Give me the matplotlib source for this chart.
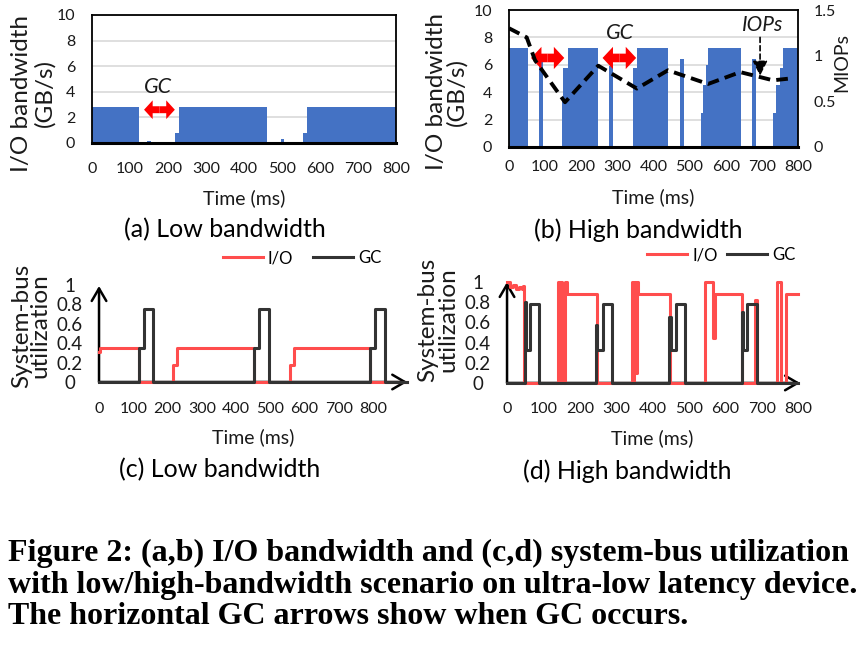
import matplotlib
matplotlib.use('Agg')
import matplotlib.pyplot as plt

W, H = 865, 648
plt.rcParams['font.family'] = ['Lato', 'DejaVu Sans']

# ---------------- data ----------------
# (a) low bandwidth: I/O bandwidth (GB/s), step-wise
a_time = [0, 124, 146, 156, 163, 170, 178, 186, 194, 202, 210, 218, 229, 460, 497, 505, 512, 556, 566, 800]
a_bw   = [2.8, 0, 0.18, 0, 0.1, 0, 0.1, 0, 0.1, 0, 0.1, 0.8, 2.8, 0, 0.3, 0.05, 0, 0.8, 2.8, 2.8]

# (b) high bandwidth: I/O bandwidth (GB/s), step-wise
b_time = [0, 52, 84, 93, 146, 149, 163, 246, 277, 288, 343, 355, 440, 473, 484,
          532, 538, 545, 552, 641, 673, 684, 731, 740, 751, 759, 800]
b_bw   = [7.2, 0, 6.3, 0, 3.5, 5.8, 7.2, 0, 5.9, 0, 5.8, 7.2, 0, 6.4, 0,
          2.5, 4.5, 6.0, 7.2, 0, 6.4, 0, 2.5, 4.5, 5.8, 7.2, 7.2]
# (b) MIOPs (right axis)
miops_time = [0, 49, 72, 155, 247, 354, 440, 551, 640, 731, 778]
miops      = [1.30, 1.20, 0.95, 0.49, 0.89, 0.64, 0.84, 0.69, 0.82, 0.73, 0.75]

# (c) low bandwidth: system-bus utilization
c_io_time = [0, 4, 117, 217, 229, 453, 558, 569, 791, 900]
c_io      = [0.31, 0.35, 0, 0.18, 0.35, 0, 0.18, 0.35, 0, 0]
c_gc_time = [0, 117, 131, 158, 453, 468, 497, 791, 805, 835, 900]
c_gc      = [0, 0.35, 0.75, 0, 0.35, 0.75, 0, 0.35, 0.75, 0, 0]

# (d) high bandwidth: system-bus utilization
d_io_time = [0, 8, 16, 24, 32, 40, 44, 47,
             141, 145, 147, 150, 153, 157, 160, 164, 246,
             344, 347, 350, 353, 356, 359, 448,
             544, 567, 571, 645, 681, 686, 743, 752, 766, 800]
d_io      = [1.0, 0.95, 0.97, 0.93, 0.95, 0.93, 0.96, 0,
             1.0, 0, 1.0, 0.05, 0.95, 0, 1.0, 0.88, 0,
             1.0, 0, 1.0, 0.1, 1.0, 0.88, 0,
             1.0, 0.45, 0.88, 0, 0.82, 0, 1.0, 0, 0.88, 0.88]
d_gc_time = [0, 49, 52, 63, 88, 244, 248, 263, 287, 446, 450, 464, 488, 645, 649, 660, 686, 800]
d_gc      = [0, 0.8, 0.33, 0.78, 0, 0.57, 0.33, 0.78, 0, 0.65, 0.33, 0.78, 0, 0.7, 0.33, 0.78, 0, 0]

time_ticks = [0, 100, 200, 300, 400, 500, 600, 700, 800]
bw_ticks = [0, 2, 4, 6, 8, 10]
miops_ticks = [0, 0.5, 1, 1.5]
miops_labels = ['0', '0.5', '1', '1.5']
util_ticks = [0, 0.2, 0.4, 0.6, 0.8, 1]
util_labels = ['0', '0.2', '0.4', '0.6', '0.8', '1']

BLUE = '#4472C4'
RED = '#FF4D4D'
DARK = '#333333'
TXT = '#1a1a1a'
TICK_FS = 11.5

fig = plt.figure(figsize=(W / 100, H / 100), dpi=100)


def ax_px(left, top, right, bottom):
    return fig.add_axes([left / W, 1 - bottom / H, (right - left) / W, (bottom - top) / H])


def ftext(x, y, s, **kw):
    return fig.text(x / W, 1 - y / H, s, **kw)


def bw_panel(ax, t, v, xpad):
    ax.fill_between(t, v, step='post', color=BLUE, lw=0, zorder=2)
    ax.set_xlim(0, 800)
    ax.set_ylim(0, 10)
    ax.set_xticks(time_ticks)
    ax.set_yticks(bw_ticks)
    ax.yaxis.grid(True, color='#D9D9D9', lw=1.2)
    ax.set_axisbelow(True)
    for s in ['top', 'left', 'right']:
        ax.spines[s].set_color('black')
        ax.spines[s].set_linewidth(1.3)
    ax.spines['bottom'].set_linewidth(2.2)
    ax.spines['bottom'].set_zorder(5)
    ax.tick_params(axis='x', length=0, pad=xpad, labelsize=TICK_FS, labelcolor=TXT)
    ax.tick_params(axis='y', length=0, pad=12, labelsize=TICK_FS, labelcolor=TXT)


def red_arrow(ax, x0, x1, y, hw, hl, tw):
    xm = 0.5 * (x0 + x1)
    style = f'simple,head_width={hw},head_length={hl},tail_width={tw}'
    for xe in (x0, x1):
        ax.annotate('', xy=(xe, y), xytext=(xm, y),
                    arrowprops=dict(arrowstyle=style, lw=0, color='#FF0000',
                                    shrinkA=0, shrinkB=0, mutation_scale=10), zorder=6)


# ---------------- (a) ----------------
ax_a = ax_px(92, 15, 396, 143)
bw_panel(ax_a, a_time, a_bw, 13.5)
red_arrow(ax_a, 137, 218, 2.6, 1.35, 0.62, 0.5)
ax_a.text(174, 4.4, 'GC', style='italic', fontsize=15.5, ha='center', va='center', color=TXT)

# ---------------- (b) ----------------
ax_b = ax_px(509, 10, 798, 147)
bw_panel(ax_b, b_time, b_bw, 9.5)
ax_b2 = ax_b.twinx()
ax_b2.plot(miops_time, miops, color='black', lw=2.8, linestyle=(0, (3, 1.6)), zorder=4)
ax_b2.set_ylim(0, 1.5)
ax_b2.set_yticks(miops_ticks)
ax_b2.set_yticklabels(miops_labels)
ax_b2.tick_params(axis='y', length=0, pad=11, labelsize=TICK_FS, labelcolor=TXT)
for s in ax_b2.spines.values():
    s.set_visible(False)
red_arrow(ax_b, 61, 153, 6.5, 1.6, 0.75, 0.62)
red_arrow(ax_b, 259, 352, 6.5, 1.6, 0.75, 0.62)
ax_b.text(307, 8.3, 'GC', style='italic', fontsize=15.5, ha='center', va='center', color=TXT)
ax_b.text(703, 8.9, 'IOPs', style='italic', fontsize=15, ha='center', va='center', color=TXT)
ax_b.annotate('', xy=(695, 5.2), xytext=(695, 8.0),
              arrowprops=dict(arrowstyle='-|>,head_width=0.3,head_length=0.6', lw=1.2,
                              linestyle=(0, (3, 2)), color='black', shrinkA=0, shrinkB=0,
                              mutation_scale=15), zorder=6)


# ---------------- (c), (d) ----------------
def util_panel(ax, xmax_arrow, ytop_arrow, ypad, xpad):
    ax.set_ylim(-0.03, 1.06)
    ax.set_xticks(time_ticks)
    ax.set_yticks(util_ticks)
    ax.set_yticklabels(util_labels)
    for s in ax.spines.values():
        s.set_visible(False)
    ax.tick_params(axis='x', length=0, pad=xpad, labelsize=TICK_FS, labelcolor=TXT)
    ax.tick_params(axis='y', length=0, pad=ypad, labelsize=13.5, labelcolor=TXT)
    for lab in ax.get_yticklabels():
        lab.set_horizontalalignment('center')
    ap = dict(arrowstyle='->,head_length=0.6,head_width=0.35', lw=1.8, color='black',
              shrinkA=0, shrinkB=0, mutation_scale=15)
    ax.annotate('', xy=(0, ytop_arrow), xytext=(0, 0), arrowprops=ap, zorder=1,
                annotation_clip=False)
    ax.annotate('', xy=(xmax_arrow, 0), xytext=(0, 0), arrowprops=ap, zorder=1,
                annotation_clip=False)


ax_c = ax_px(95.6, 279.2, 410.7, 384.9)
ax_c.set_xlim(-10, 910)
ax_c.plot(c_io_time, c_io, drawstyle='steps-post', color=RED, lw=2.2, label='I/O', zorder=3,
          clip_on=False)
ax_c.plot(c_gc_time, c_gc, drawstyle='steps-post', color=DARK, lw=2.2, label='GC', zorder=4,
          clip_on=False)
util_panel(ax_c, 900, 0.99, 18.5, 12)
ax_c.legend(ncol=2, frameon=False, fontsize=12, loc='center left',
            bbox_to_anchor=(223 / W, 1 - 258 / H), bbox_transform=fig.transFigure,
            borderpad=0, borderaxespad=0, handlelength=2.4, handletextpad=0.3,
            columnspacing=1.2)

ax_d = ax_px(503.4, 275.9, 803.7, 386)
ax_d.set_xlim(-10, 815)
ax_d.plot(d_io_time, d_io, drawstyle='steps-post', color=RED, lw=2.2, label='I/O', zorder=3,
          clip_on=False)
ax_d.plot(d_gc_time, d_gc, drawstyle='steps-post', color=DARK, lw=2.2, label='GC', zorder=4,
          clip_on=False)
util_panel(ax_d, 805, 1.0, 18.5, 11.3)
ax_d.legend(ncol=2, frameon=False, fontsize=12, loc='center left',
            bbox_to_anchor=(647 / W, 1 - 255 / H), bbox_transform=fig.transFigure,
            borderpad=0, borderaxespad=0, handlelength=2.4, handletextpad=0.3,
            columnspacing=0.6)

# ---------------- labels ----------------
LAB_FS = 17.5
ftext(33, 93, 'I/O bandwidth\n(GB/s)', rotation=90, ha='center', va='center',
      fontsize=LAB_FS, linespacing=1.1, color=TXT)
ftext(447, 92, 'I/O bandwidth\n(GB/s)', rotation=90, ha='center', va='center',
      fontsize=LAB_FS, linespacing=0.92, color=TXT)
ftext(842, 63, 'MIOPs', rotation=90, ha='center', va='center', fontsize=14, color=TXT)
ftext(31, 326, 'System-bus\nutilization', rotation=90, ha='center', va='center',
      fontsize=LAB_FS, linespacing=0.86, color=TXT)
ftext(438, 320, 'System-bus\nutilization', rotation=90, ha='center', va='center',
      fontsize=LAB_FS, linespacing=0.94, color=TXT)

TIME_FS = 14
ftext(244, 198, 'Time (ms)', ha='center', va='center', fontsize=TIME_FS, color=TXT)
ftext(653, 197, 'Time (ms)', ha='center', va='center', fontsize=TIME_FS, color=TXT)
ftext(253, 437, 'Time (ms)', ha='center', va='center', fontsize=TIME_FS, color=TXT)
ftext(652, 438, 'Time (ms)', ha='center', va='center', fontsize=TIME_FS, color=TXT)

SUB_FS = 18
ftext(225, 230, '(a) Low bandwidth', ha='center', va='center', fontsize=SUB_FS, color='black')
ftext(638, 230, '(b) High bandwidth', ha='center', va='center', fontsize=SUB_FS, color='black')
ftext(220, 470, '(c) Low bandwidth', ha='center', va='center', fontsize=SUB_FS, color='black')
ftext(627, 471, '(d) High bandwidth', ha='center', va='center', fontsize=SUB_FS, color='black')

CAP_FS = 23
cap = ['Figure 2: (a,b) I/O bandwidth and (c,d) system-bus utilization',
       'with low/high-bandwidth scenario on ultra-low latency device.',
       'The horizontal GC arrows show when GC occurs.']
for i, line in enumerate(cap):
    ftext(8, 553 + 32 * i, line, ha='left', va='center', fontsize=CAP_FS,
          family='Liberation Serif', weight='bold', color='black')

fig.savefig('out.png', dpi=100)
